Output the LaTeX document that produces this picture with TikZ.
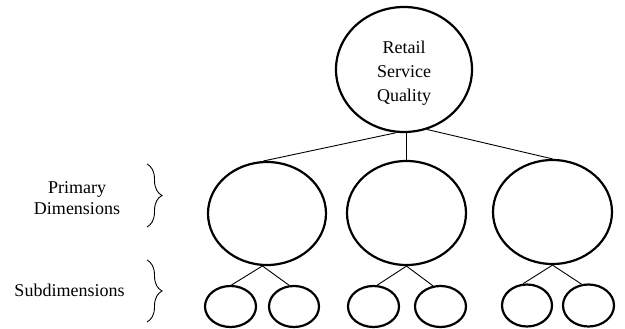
\documentclass[tikz,border=0pt]{standalone}
\usepackage{fontspec}
\setmainfont{Liberation Serif}
\usetikzlibrary{shapes.geometric,decorations.pathreplacing}
\begin{document}
\begin{tikzpicture}[x=1pt,y=-1pt,
  bigell/.style={draw,ellipse,line width=2.2pt,inner sep=0pt},
  conn/.style={draw,line width=0.9pt},
  lbl/.style={font=\fontsize{18}{21}\selectfont,align=center,inner sep=0pt},
  bracestyle/.style={draw,line width=0.9pt,decorate,decoration={brace,amplitude=15pt,aspect=0.5}}]
\useasboundingbox (0,0) rectangle (625,329);
% top
\node[bigell,minimum width=136pt,minimum height=125pt] (top) at (404,69.5) {};
\node[font=\fontsize{18}{24}\selectfont,align=center,inner sep=0pt] (toptxt) at (404,73.5) {Retail\\Service\\Quality};
% primary
\node[bigell,minimum width=118pt,minimum height=103pt] (p1) at (267,213.5) {};
\node[bigell,minimum width=119pt,minimum height=104pt] (p2) at (406.5,213) {};
\node[bigell,minimum width=119pt,minimum height=104pt] (p3) at (552.5,212) {};
% subs
\node[bigell,minimum width=51pt,minimum height=41pt] (s1) at (230.5,306.5) {};
\node[bigell,minimum width=50pt,minimum height=41pt] (s2) at (294,306.5) {};
\node[bigell,minimum width=51pt,minimum height=41pt] (s3) at (373.5,306.5) {};
\node[bigell,minimum width=51pt,minimum height=41pt] (s4) at (440.5,306.5) {};
\node[bigell,minimum width=50pt,minimum height=42pt] (s5) at (527,305.5) {};
\node[bigell,minimum width=51pt,minimum height=42pt] (s6) at (588.5,305.5) {};
% connectors top -> primary
\draw[conn] (top.263) -- (p1.94);
\draw[conn] (top.south -| p2.north) -- (p2.north);
\draw[conn] (top.291) -- (p3.north);
% primary -> subs
\draw[conn] (p1.265) -- (s1.87);
\draw[conn] (p1.265) -- (s2.103);
\draw[conn] (p2.south) -- (s3.80);
\draw[conn] (p2.south) -- (s4.110);
\draw[conn] (p3.south) -- (s5.100);
\draw[conn] (p3.south) -- (s6.108);
% labels
\node[lbl] (pd) at (77,198) {Primary\\Dimensions};
\node[lbl] (sd) at (69.5,290) {Subdimensions};
% braces
\draw[bracestyle] (147,164) -- (147,227);
\draw[bracestyle] (147,260) -- (147,322);
\end{tikzpicture}
\end{document}
